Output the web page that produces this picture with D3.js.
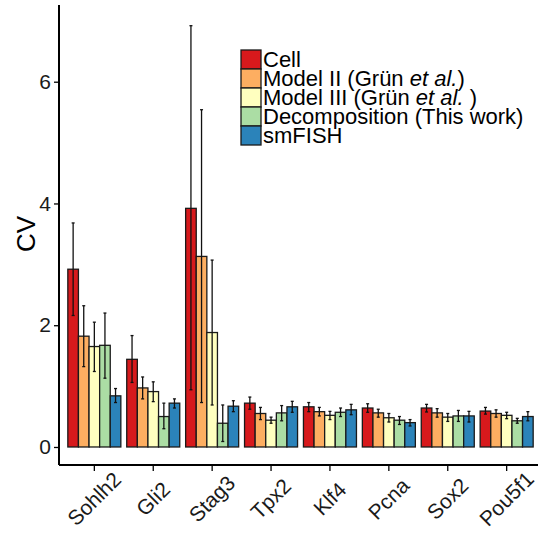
<!DOCTYPE html>
<html>
<head>
<meta charset="utf-8">
<script src="https://cdn.jsdelivr.net/npm/d3@7"></script>
<style>
  body { margin: 0; background: #fff; }
  text { font-family: "Liberation Sans", Arial, sans-serif; }
</style>
</head>
<body>
<div id="chart"></div>
<script>
// genes on the x axis
var genes = ['Sohlh2', 'Gli2', 'Stag3', 'Tpx2', 'Klf4', 'Pcna', 'Sox2', 'Pou5f1'];

// one entry per method, same order as genes
var series = ['Cell', 'Model II', 'Model III', 'Decomposition', 'smFISH'];
var seriesColors = ['#d7191c', '#fdae61', '#ffffbf', '#abdda4', '#2b83ba'];

// CV values
var cellCV   = [2.92, 1.44, 3.92, 0.72, 0.66, 0.64, 0.64, 0.59];
var model2CV = [1.82, 0.97, 3.13, 0.55, 0.58, 0.56, 0.56, 0.55];
var model3CV = [1.65, 0.91, 1.88, 0.44, 0.52, 0.48, 0.49, 0.52];
var decompCV = [1.67, 0.50, 0.39, 0.56, 0.57, 0.44, 0.51, 0.43];
var fishCV   = [0.84, 0.72, 0.67, 0.66, 0.61, 0.40, 0.51, 0.50];

// error bar lows / highs
var cellLo   = [2.16, 1.06, 0.94, 0.62, 0.58, 0.57, 0.575, 0.54];
var cellHi   = [3.68, 1.83, 6.92, 0.82, 0.73, 0.71, 0.70, 0.65];
var model2Lo = [1.32, 0.79, 0.73, 0.45, 0.51, 0.49, 0.49, 0.49];
var model2Hi = [2.32, 1.15, 5.54, 0.65, 0.65, 0.62, 0.63, 0.61];
var model3Lo = [1.24, 0.745, 0.69, 0.39, 0.45, 0.41, 0.42, 0.465];
var model3Hi = [2.05, 1.07, 3.07, 0.49, 0.585, 0.55, 0.55, 0.57];
var decompLo = [1.13, 0.30, 0.09, 0.43, 0.50, 0.37, 0.42, 0.39];
var decompHi = [2.20, 0.72, 0.69, 0.68, 0.64, 0.50, 0.60, 0.47];
var fishLo   = [0.73, 0.64, 0.58, 0.57, 0.53, 0.345, 0.41, 0.43];
var fishHi   = [0.96, 0.79, 0.76, 0.75, 0.70, 0.45, 0.585, 0.58];

var yTicks = [0, 2, 4, 6];

var values = [cellCV, model2CV, model3CV, decompCV, fishCV];
var lows = [cellLo, model2Lo, model3Lo, decompLo, fishLo];
var highs = [cellHi, model2Hi, model3Hi, decompHi, fishHi];

var width = 538;
var height = 537;
var margin = { left: 59, right: 542, top: 5, bottom: 465 };

var svg = d3.select('#chart').append('svg')
    .attr('width', width)
    .attr('height', height);

var x = d3.scaleBand()
    .domain(genes)
    .range([margin.left, margin.right])
    .paddingInner(0.1)
    .paddingOuter(0.15);

var xInner = d3.scaleBand()
    .domain(series)
    .range([0, x.bandwidth()]);

var y = d3.scaleLinear()
    .domain([-0.296, 7.26])
    .range([margin.bottom, margin.top]);

var color = d3.scaleOrdinal()
    .domain(series)
    .range(seriesColors);

// flatten to one record per bar
var bars = [];
genes.forEach(function (g, i) {
    series.forEach(function (s, j) {
        bars.push({ gene: g, series: s, v: values[j][i], lo: lows[j][i], hi: highs[j][i] });
    });
});

var plot = svg.append('g');

plot.selectAll('.bar')
    .data(bars)
    .enter().append('rect')
    .attr('class', 'bar')
    .attr('x', function (d) { return x(d.gene) + xInner(d.series); })
    .attr('y', function (d) { return y(d.v); })
    .attr('width', xInner.bandwidth())
    .attr('height', function (d) { return y(0) - y(d.v); })
    .attr('fill', function (d) { return color(d.series); })
    .attr('stroke', '#1a1a1a')
    .attr('stroke-width', 1.3);

// error bars
var err = plot.selectAll('.err')
    .data(bars)
    .enter().append('g')
    .attr('class', 'err')
    .attr('transform', function (d) {
        return 'translate(' + (x(d.gene) + xInner(d.series) + xInner.bandwidth() / 2) + ',0)';
    });
err.append('line')
    .attr('y1', function (d) { return y(d.lo); })
    .attr('y2', function (d) { return y(d.hi); })
    .attr('stroke', '#111')
    .attr('stroke-width', 1.3);
err.append('line')
    .attr('x1', -1.5).attr('x2', 1.5)
    .attr('y1', function (d) { return y(d.lo); })
    .attr('y2', function (d) { return y(d.lo); })
    .attr('stroke', '#111')
    .attr('stroke-width', 1.3);
err.append('line')
    .attr('x1', -1.5).attr('x2', 1.5)
    .attr('y1', function (d) { return y(d.hi); })
    .attr('y2', function (d) { return y(d.hi); })
    .attr('stroke', '#111')
    .attr('stroke-width', 1.3);

// y axis
var yAxis = svg.append('g')
    .attr('transform', 'translate(' + margin.left + ',0)')
    .call(d3.axisLeft(y).tickValues(yTicks).tickSize(5).tickPadding(3).tickFormat(d3.format('d')));
yAxis.select('.domain').attr('d', 'M0,' + margin.top + 'V' + margin.bottom).attr('stroke-width', 2);
yAxis.selectAll('.tick line').attr('stroke-width', 1.3);
yAxis.selectAll('.tick text')
    .attr('font-size', 21)
    .attr('fill', '#1a1a1a');

// x axis
var xAxis = svg.append('g')
    .attr('transform', 'translate(0,' + margin.bottom + ')')
    .call(d3.axisBottom(x).tickSize(6).tickSizeOuter(0));
xAxis.select('.domain').attr('d', 'M' + margin.left + ',0H' + width).attr('stroke-width', 2);
xAxis.selectAll('.tick line').attr('stroke-width', 1.3);
xAxis.selectAll('.tick text')
    .attr('font-size', 21)
    .attr('fill', '#1a1a1a')
    .attr('text-anchor', 'middle')
    .attr('y', 0)
    .attr('dy', 0)
    .attr('transform', 'translate(5,39) rotate(-45)');

// y title
svg.append('text')
    .attr('transform', 'translate(35,234) rotate(-90)')
    .attr('text-anchor', 'middle')
    .attr('font-size', 26)
    .attr('fill', '#000')
    .text('CV');

// legend
var legend = svg.append('g').attr('transform', 'translate(241,50)');
var rows = legend.selectAll('.row')
    .data(series)
    .enter().append('g')
    .attr('class', 'row')
    .attr('transform', function (d, i) { return 'translate(0,' + i * 19 + ')'; });
rows.append('rect')
    .attr('width', 20)
    .attr('height', 19)
    .attr('fill', function (d) { return color(d); })
    .attr('stroke', '#1a1a1a')
    .attr('stroke-width', 1.3);

var labels = [
    [['Cell', false]],
    [['Model II (Grün ', false], ['et al.', true], [')', false]],
    [['Model III (Grün ', false], ['et al.', true], [' )', false]],
    [['Decomposition (This work)', false]],
    [['smFISH', false]]
];
rows.append('text')
    .attr('x', 22)
    .attr('y', 17)
    .attr('font-size', 22)
    .attr('fill', '#000')
    .each(function (d, i) {
        var t = d3.select(this);
        labels[i].forEach(function (p) {
            t.append('tspan')
                .attr('font-style', p[1] ? 'italic' : 'normal')
                .attr('xml:space', 'preserve')
                .text(p[0]);
        });
    });
</script>
</body>
</html>
